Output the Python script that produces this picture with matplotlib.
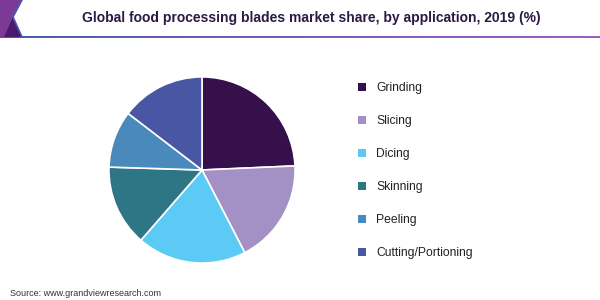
import numpy as np
import matplotlib.pyplot as plt
from matplotlib.patches import Polygon, Patch

plt.rcParams['font.family'] = ['Liberation Sans', 'DejaVu Sans']

# data (share in %)
applications = ['Grinding', 'Slicing', 'Dicing', 'Skinning', 'Peeling', 'Cutting/Portioning']
shares = [24.3, 18.1, 19.0, 14.1, 9.9, 14.6]
colors = ['#36104a', '#a391c5', '#5bcbf5', '#2e7586', '#4a89bc', '#4856a3']

fig = plt.figure(figsize=(6, 3), dpi=100)
fig.patch.set_facecolor('white')

# header decoration: corner shape + gradient rule
deco = fig.add_axes([0, 0, 1, 1])
deco.axis('off')
deco.add_patch(Polygon([[0, 0], [22, 0], [13, 17], [22, 37], [0, 37]],
                       closed=True, facecolor='#7b3a95', edgecolor='none'))
deco.add_patch(Polygon([[13, 17], [22, 37], [4, 37]],
                       closed=True, facecolor='#4a1a6e', edgecolor='none'))
deco.plot([22, 13, 22], [0, 17, 37], color='#4a58b0', lw=1.2)
grad = np.linspace(0, 1, 256).reshape(1, -1)
cmap = plt.matplotlib.colors.LinearSegmentedColormap.from_list('rule', ['#4a5cb0', '#a05fbf'])
deco.imshow(grad, cmap=cmap, extent=[0, 600, 38.5, 36.5], aspect='auto')
deco.set_xlim(0, 600)
deco.set_ylim(300, 0)

fig.text(311 / 600, 1 - 18 / 300, 'Global food processing blades market share, by application, 2019 (%)',
         ha='center', va='center', fontsize=10.0, fontweight='bold', color='#2a1a45')

# pie
ax = fig.add_axes([108 / 600, 36 / 300, 188 / 600, 188 / 300])
ax.pie(shares, colors=colors, startangle=90, counterclock=False, radius=1,
       wedgeprops=dict(edgecolor='white', linewidth=1.2))
ax.set_xlim(-1.01, 1.01)
ax.set_ylim(-1.01, 1.01)
ax.set_aspect('equal')

handles = [Patch(facecolor=c, edgecolor='none') for c in colors]
fig.legend(handles, applications, loc='upper left',
           bbox_to_anchor=(347 / 600, 1 - 71.5 / 300), frameon=False,
           fontsize=8.7, handlelength=0.65, handleheight=0.65, handletextpad=0.85,
           labelspacing=1.74, labelcolor='#222222')

fig.text(10 / 600, 1 - 293 / 300, 'Source: www.grandviewresearch.com',
         ha='left', va='center', fontsize=6.5, color='#333333')

fig.savefig('out.png', dpi=100)
